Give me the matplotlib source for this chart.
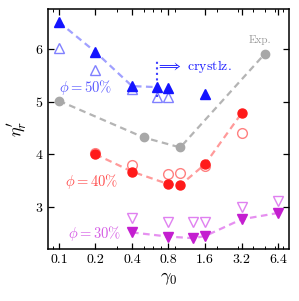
import numpy as np
import matplotlib
matplotlib.use("Agg")
import matplotlib.pyplot as plt
from matplotlib.ticker import FixedLocator, LogLocator, NullFormatter

plt.rcParams['font.family'] = 'serif'
plt.rcParams['font.serif'] = ['cmr10']
plt.rcParams['mathtext.fontset'] = 'cm'
plt.rcParams['axes.formatter.use_mathtext'] = True

# phi = 50 %
g50 = [0.1, 0.2, 0.4, 0.64, 0.8, 1.6]
eta50 = [6.52, 5.95, 5.30, 5.28, 5.26, 5.15]
g50_open = [0.1, 0.2, 0.4, 0.64, 0.8]
eta50_open = [6.02, 5.60, 5.24, 5.10, 5.10]
n50_line = 4  # dashed line stops where crystallisation begins

# phi = 40 %
g40 = [0.2, 0.4, 0.8, 1.0, 1.6, 3.2]
eta40 = [4.00, 3.67, 3.43, 3.41, 3.81, 4.78]
g40_open = [0.2, 0.4, 0.8, 1.0, 1.6, 3.2]
eta40_open = [4.03, 3.79, 3.62, 3.64, 3.78, 4.41]

# phi = 30 %
g30 = [0.4, 0.8, 1.28, 1.6, 3.2, 6.4]
eta30 = [2.51, 2.43, 2.40, 2.44, 2.76, 2.88]
g30_open = [0.4, 0.8, 1.28, 1.6, 3.2, 6.4]
eta30_open = [2.78, 2.71, 2.70, 2.70, 3.00, 3.10]

# experiment
g_exp = [0.1, 0.5, 1.0, 5.0]
eta_exp = [5.02, 4.32, 4.13, 5.92]

xticks = [0.1, 0.2, 0.4, 0.8, 1.6, 3.2, 6.4]
xticklabels = ['0.1', '0.2', '0.4', '0.8', '1.6', '3.2', '6.4']
yticks = [3, 4, 5, 6]

fig = plt.figure(figsize=(2.99, 3.01), dpi=100)
ax = fig.add_axes([0.1605, 0.1728, 0.806, 0.797])

dash = (0, (3, 2))
lw = 1.6

# experiment
ax.plot(g_exp, eta_exp, ls=dash, lw=lw, color='#b4b4b4', zorder=1)
ax.plot(g_exp, eta_exp, 'o', ms=6, color='#a8a8a8', zorder=3)
ax.text(4.5, 6.17, 'Exp.', color='#9a9a9a', fontsize=8, ha='center', va='center')

# 50 %
ax.plot(g50[:n50_line], eta50[:n50_line], ls=dash, lw=lw, color='#a0a0ff', zorder=1)
ax.plot(g50_open, eta50_open, '^', ms=7, mfc='none', mec='#8080ff', mew=1.0, zorder=2)
ax.plot(g50, eta50, '^', ms=7, color='#1414ff', zorder=3)
ax.plot([0.64, 0.64], [5.1, 5.8], ls=':', lw=1.5, color='#4040ff', zorder=2)
ax.text(0.635, 5.68, r'$\Longrightarrow$ crystlz.', color='#2020ff', fontsize=10,
        ha='left', va='center')
ax.text(0.165, 5.28, r'$\phi = 50\%$', color='#5a5aff', fontsize=10.5,
        ha='center', va='center')

# 40 %
ax.plot(g40, eta40, ls=dash, lw=lw, color='#ff9a9a', zorder=1)
ax.plot(g40_open, eta40_open, 'o', ms=7, mfc='none', mec='#ff8080', mew=1.0, zorder=2)
ax.plot(g40, eta40, 'o', ms=6.5, color='#ff1a1a', zorder=3)
ax.text(0.184, 3.48, r'$\phi = 40\%$', color='#ff5050', fontsize=10.5,
        ha='center', va='center')

# 30 %
ax.plot(g30, eta30, ls=dash, lw=lw, color='#e690f0', zorder=1)
ax.plot(g30_open, eta30_open, 'v', ms=7, mfc='none', mec='#e080f0', mew=1.0, zorder=2)
ax.plot(g30, eta30, 'v', ms=7, color='#c41ed0', zorder=3)
ax.text(0.198, 2.49, r'$\phi = 30\%$', color='#d45ce4', fontsize=10.5,
        ha='center', va='center')

ax.set_xscale('log')
ax.set_xlim(0.0812, 7.88)
ax.set_ylim(2.194, 6.768)
ax.xaxis.set_major_locator(FixedLocator(xticks))
ax.set_xticklabels(xticklabels)
ax.xaxis.set_minor_locator(LogLocator(base=10, subs=np.arange(2, 10)))
ax.xaxis.set_minor_formatter(NullFormatter())
ax.set_yticks(yticks)
ax.tick_params(which='both', direction='in', top=True, right=True, labelsize=10)
ax.tick_params(which='major', length=4, width=0.9)
ax.tick_params(which='minor', length=2.5, width=0.7)
for s in ax.spines.values():
    s.set_linewidth(1.1)

ax.set_xlabel(r'$\gamma_0$', fontsize=13, labelpad=3)
ax.set_ylabel(r"$\eta_r'$", fontsize=13, labelpad=4)

fig.savefig('out.png', dpi=100)
